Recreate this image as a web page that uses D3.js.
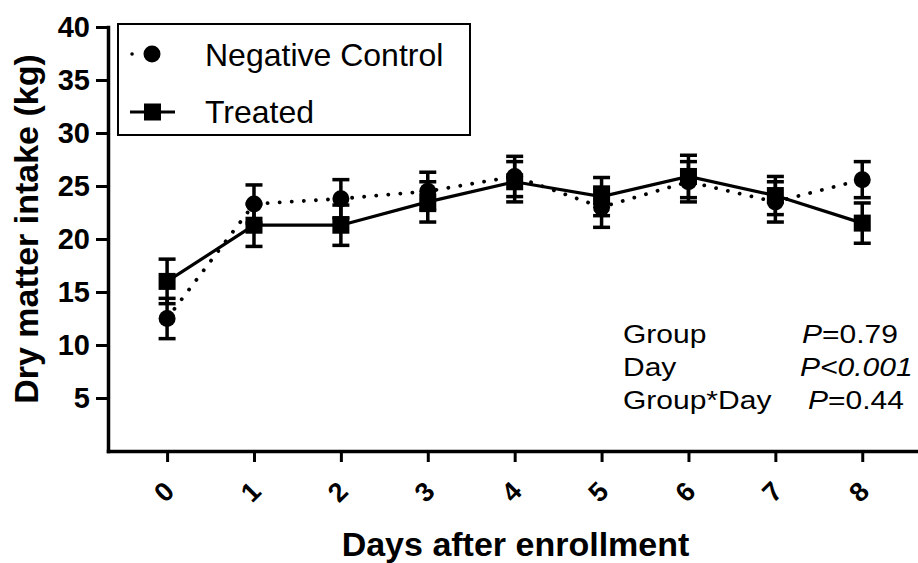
<!DOCTYPE html>
<html><head><meta charset="utf-8">
<script src="https://cdn.jsdelivr.net/npm/d3@7"></script>
<style>
html,body{margin:0;padding:0;background:#fff;}
svg{display:block;font-family:"Liberation Sans",Arial,sans-serif;}
</style></head>
<body>
<svg id="chart" width="918" height="563"></svg>
<script>
const days = [0,1,2,3,4,5,6,7,8];
const dayLabels = ["0","1","2","3","4","5","6","7","8"];
const controlMean = [12.5,23.3,23.8,24.5,25.9,23.0,25.4,23.5,25.6];
const controlErr  = [1.9,1.8,1.8,1.8,1.9,1.9,1.9,1.9,1.7];
const treatedMean = [16.0,21.3,21.3,23.5,25.4,24.0,25.9,24.1,21.5];
const treatedErr  = [2.1,2.0,1.9,1.9,1.9,1.8,2.0,1.8,1.9];
const yTicks = [5,10,15,20,25,30,35,40];
const seriesNames = ["Negative Control","Treated"];
const statRows = [
  {term:"Group", p:"=0.79", allItalic:false},
  {term:"Day", p:"<0.001", allItalic:true},
  {term:"Group*Day", p:"=0.44", allItalic:false}
];

const svg = d3.select("#chart");
const x = d3.scaleLinear().domain([-0.68, 8.63]).range([108, 917]);
const y = d3.scaleLinear().domain([0, 40]).range([451, 27]);

// Y axis
const yAxis = svg.append("g").attr("transform","translate(108,0)")
  .call(d3.axisLeft(y).tickValues(yTicks).tickSize(12).tickSizeOuter(0).tickPadding(6));
yAxis.select(".domain").attr("stroke","#000").attr("stroke-width",3.5).attr("stroke-linecap","square");
yAxis.selectAll(".tick line").attr("stroke","#000").attr("stroke-width",3);
yAxis.selectAll(".tick text").attr("font-size",29).attr("font-weight","bold")
  .attr("fill","#000").attr("font-family","Liberation Sans, Arial, sans-serif");

// X axis
const xAxis = svg.append("g").attr("transform","translate(0,451)")
  .call(d3.axisBottom(x).tickValues(days).tickSize(11).tickSizeOuter(0).tickFormat(""));
xAxis.select(".domain").attr("stroke","#000").attr("stroke-width",3.5).attr("stroke-linecap","square");
xAxis.selectAll(".tick line").attr("stroke","#000").attr("stroke-width",3);
svg.append("g").selectAll("text").data(days).join("text")
  .attr("transform", d => `translate(${x(d)-3},492) rotate(-45)`)
  .attr("text-anchor","middle").attr("dominant-baseline","central")
  .attr("font-size",27).attr("font-weight","bold").attr("fill","#000")
  .text((d,i) => dayLabels[i]);

// Axis titles
svg.append("text").attr("x",(108+917)/2 + 3).attr("y",556).attr("text-anchor","middle")
  .attr("font-size",34).attr("font-weight","bold").text("Days after enrollment");
svg.append("text").attr("transform","translate(38,229) rotate(-90)").attr("text-anchor","middle")
  .attr("font-size",34).attr("font-weight","bold").text("Dry matter intake (kg)");

// Lines
const lineGen = d3.line().x((d,i)=>x(days[i])).y(d=>y(d));
svg.append("path").datum(controlMean).attr("d",lineGen).attr("fill","none")
  .attr("stroke","#000").attr("stroke-width",3.8).attr("stroke-dasharray","0.1 12").attr("stroke-linecap","round");
svg.append("path").datum(treatedMean).attr("d",lineGen).attr("fill","none")
  .attr("stroke","#000").attr("stroke-width",3.2);

// Error bars
function errorBars(means, errs){
  const g = svg.append("g").attr("stroke","#000");
  means.forEach((m,i)=>{
    const cx = x(days[i]);
    g.append("line").attr("x1",cx).attr("x2",cx).attr("y1",y(m-errs[i])).attr("y2",y(m+errs[i])).attr("stroke-width",3.5);
    [m-errs[i], m+errs[i]].forEach(v=>{
      g.append("line").attr("x1",cx-8.5).attr("x2",cx+8.5).attr("y1",y(v)).attr("y2",y(v)).attr("stroke-width",3.5);
    });
  });
}
errorBars(controlMean, controlErr);
errorBars(treatedMean, treatedErr);

// Markers
svg.append("g").selectAll("circle").data(controlMean).join("circle")
  .attr("cx",(d,i)=>x(days[i])).attr("cy",d=>y(d)).attr("r",8.5).attr("fill","#000");
svg.append("g").selectAll("rect").data(treatedMean).join("rect")
  .attr("x",(d,i)=>x(days[i])-8.5).attr("y",d=>y(d)-8.5).attr("width",17).attr("height",17).attr("fill","#000");

// Legend
const lg = svg.append("g");
lg.append("rect").attr("x",118).attr("y",24).attr("width",352).attr("height",111)
  .attr("fill","#fff").attr("stroke","#000").attr("stroke-width",2);
lg.append("line").attr("x1",132).attr("x2",172).attr("y1",54).attr("y2",54)
  .attr("stroke","#000").attr("stroke-width",3.5).attr("stroke-dasharray","0.1 20").attr("stroke-linecap","round");
lg.append("circle").attr("cx",152).attr("cy",54).attr("r",8.5).attr("fill","#000");
lg.append("line").attr("x1",130).attr("x2",175).attr("y1",112).attr("y2",112)
  .attr("stroke","#000").attr("stroke-width",3.2);
lg.append("rect").attr("x",144).attr("y",103.5).attr("width",17).attr("height",17).attr("fill","#000");
lg.append("text").attr("x",205).attr("y",66).attr("font-size",32).text(seriesNames[0]);
lg.append("text").attr("x",205).attr("y",123).attr("font-size",32).text(seriesNames[1]);

// Stats annotation (horizontally stretched text as in the reference)
const st = svg.append("g").attr("font-size",25);
statRows.forEach((r,i)=>{
  const by = 343 + i*33;
  st.append("text").attr("transform",`translate(623,${by}) scale(1.2,1)`).text(r.term);
  const px = i===2 ? 808 : (i===1 ? 800 : 802);
  const t = st.append("text").attr("transform",`translate(${px},${by}) scale(1.2,1)`);
  t.append("tspan").attr("font-style","italic").text("P");
  t.append("tspan").attr("font-style", r.allItalic ? "italic" : "normal").text(r.p);
});
</script>
</body></html>
